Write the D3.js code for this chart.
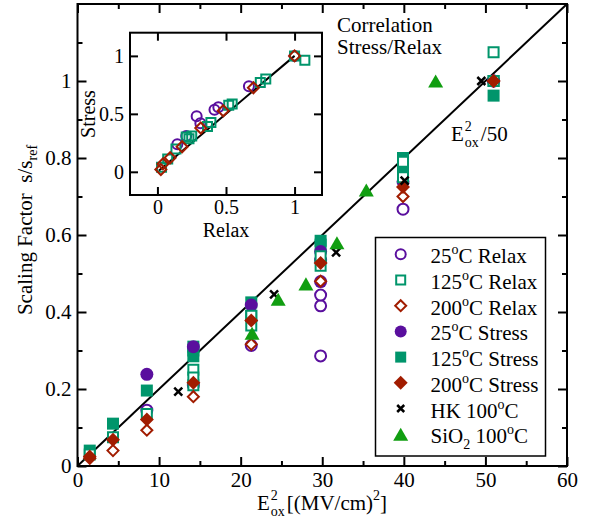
<!DOCTYPE html>
<html>
<head>
<meta charset="utf-8">
<script src="https://cdn.jsdelivr.net/npm/d3@7"></script>
<style>
  body { margin: 0; background: #fff; }
  svg { display: block; }
</style>
</head>
<body>
<svg id="chart" width="592" height="525" font-family="Liberation Serif, Times New Roman, serif"></svg>
<script>
// E_ox^2 positions and scaling factors
const t25X      = [8.5, 14.2, 21.3, 29.8, 29.8, 29.8, 39.9, 51.0];
const t25Relax  = [0.145, 0.21, 0.313, 0.286, 0.416, 0.444, 0.667, 1.0];
const t25Stress = [0.238, 0.31, 0.418, 0.479, 0.535, 0.557, 0.738, 1.0];

const t125X      = [1.5, 4.35, 8.5, 14.2, 14.2, 14.2, 21.3, 21.3, 29.8, 29.8, 39.9, 39.9, 51.0, 51.0];
const t125Relax  = [0.03, 0.075, 0.135, 0.21, 0.25, 0.23, 0.365, 0.39, 0.52, 0.545, 0.75, 0.79, 1.0, 1.075];
const t125Stress = [0.04, 0.11, 0.196, 0.30, 0.31, 0.285, 0.39, 0.425, 0.575, 0.585, 0.77, 0.80, 1.0, 0.962];

const t200X      = [1.5, 4.35, 8.5, 14.2, 21.3, 29.8, 39.9, 51.0];
const t200Relax  = [0.025, 0.04, 0.093, 0.18, 0.316, 0.48, 0.70, 1.0];
const t200Stress = [0.02, 0.068, 0.121, 0.216, 0.378, 0.527, 0.725, 1.0];

const hkX = [12.35, 24.1, 31.7, 40.1, 49.5];
const hkY = [0.193, 0.446, 0.555, 0.741, 1.0];

const sioX = [21.4, 24.6, 28.0, 31.8, 35.4, 43.9];
const sioY = [0.345, 0.433, 0.473, 0.58, 0.717, 1.0];

const xTicks = [0, 10, 20, 30, 40, 50, 60];
const yTicks = [0, 0.2, 0.4, 0.6, 0.8, 1];
const insetTicks = [0, 0.5, 1];

const PURPLE = "#5a0f9e", TEAL = "#00956b", RED = "#a11c00", GREEN = "#119e11";
const SERIF = "Liberation Serif, Times New Roman, serif";

const svg = d3.select("#chart");
const FS = 21;

// marker path generator
function marker(shape, s) {
  if (shape === "circle") return `M${s},0A${s},${s} 0 1,1 ${-s},0A${s},${s} 0 1,1 ${s},0Z`;
  if (shape === "square") return `M${-s},${-s}H${s}V${s}H${-s}Z`;
  if (shape === "diamond") return `M0,${-s}L${s},0L0,${s}L${-s},0Z`;
  if (shape === "triangle") { const h = s * 0.87; return `M0,${-h}L${s},${h}L${-s},${h}Z`; }
  if (shape === "cross") return `M${-s},${-s}L${s},${s}M${-s},${s}L${s},${-s}`;
}

// ---------- main plot ----------
const x = d3.scaleLinear().domain([0, 60]).range([77.5, 567]);
const y = d3.scaleLinear().domain([0, 1.2]).range([466, 4]);

const main = svg.append("g");

function inwardAxes(g, xs, ys, xt, yt, xMinor, yMinor, big, small, fs, pad) {
  const [x0, x1] = xs.range(), [y0, y1] = ys.range();
  g.append("g").attr("transform", `translate(0,${y0})`)
    .call(d3.axisBottom(xs).tickValues(xMinor).tickSize(-small).tickSizeOuter(0).tickFormat(""));
  g.append("g").attr("transform", `translate(0,${y1})`)
    .call(d3.axisTop(xs).tickValues(xMinor).tickSize(-small).tickSizeOuter(0).tickFormat(""));
  g.append("g").attr("transform", `translate(${x0},0)`)
    .call(d3.axisLeft(ys).tickValues(yMinor).tickSize(-small).tickSizeOuter(0).tickFormat(""));
  g.append("g").attr("transform", `translate(${x1},0)`)
    .call(d3.axisRight(ys).tickValues(yMinor).tickSize(-small).tickSizeOuter(0).tickFormat(""));
  g.append("g").attr("transform", `translate(0,${y1})`)
    .call(d3.axisTop(xs).tickValues(xt).tickSize(-big).tickSizeOuter(0).tickFormat(""));
  g.append("g").attr("transform", `translate(${x1},0)`)
    .call(d3.axisRight(ys).tickValues(yt).tickSize(-big).tickSizeOuter(0).tickFormat(""));
  g.append("g").attr("class", "lab").attr("transform", `translate(0,${y0})`)
    .call(d3.axisBottom(xs).tickValues(xt).tickSize(-big).tickSizeOuter(0).tickPadding(pad).tickFormat(d3.format("~g")));
  g.append("g").attr("class", "lab").attr("transform", `translate(${x0},0)`)
    .call(d3.axisLeft(ys).tickValues(yt).tickSize(-big).tickSizeOuter(0).tickPadding(6).tickFormat(d3.format("~g")));
  g.selectAll(".domain").remove();
  g.selectAll("g").attr("font-family", SERIF);
  g.selectAll(".tick line").attr("stroke", "#000").attr("stroke-width", 2);
  g.selectAll(".lab text").attr("font-size", fs).attr("font-family", SERIF).attr("fill", "#000");
  g.append("rect").attr("x", x0).attr("y", y1).attr("width", x1 - x0).attr("height", y0 - y1)
    .attr("fill", "none").attr("stroke", "#000").attr("stroke-width", 2);
}

inwardAxes(main, x, y, xTicks, yTicks, d3.range(5, 60, 10), [0.1, 0.3, 0.5, 0.7, 0.9, 1.1], 9, 5, FS, 6);

// E^2/50 line
main.append("line")
  .attr("x1", x(0)).attr("y1", y(0)).attr("x2", x(60)).attr("y2", y(1.2))
  .attr("stroke", "#000").attr("stroke-width", 2);

function drawSeries(g, xs, ys, xv, yv, shape, size, color, open, fillOpen) {
  g.append("g").selectAll("path")
    .data(xv.map((d, i) => [d, yv[i]]))
    .enter().append("path")
    .attr("transform", d => `translate(${xs(d[0])},${ys(d[1])})`)
    .attr("d", marker(shape, size))
    .attr("fill", open ? fillOpen : color)
    .attr("stroke", color)
    .attr("stroke-width", open ? 2 : 0);
}

drawSeries(main, x, y, t125X, t125Stress, "square", 6, TEAL, false);
drawSeries(main, x, y, t25X, t25Stress, "circle", 6.5, PURPLE, false);
drawSeries(main, x, y, t25X, t25Relax, "circle", 5.5, PURPLE, true, "#fff");
drawSeries(main, x, y, t125X, t125Relax, "square", 5, TEAL, true, "#fff");
drawSeries(main, x, y, t200X, t200Relax, "diamond", 5.5, RED, true, "#fff");
drawSeries(main, x, y, t200X, t200Stress, "diamond", 7, RED, false);
main.append("g").selectAll("path")
  .data(hkX.map((d, i) => [d, hkY[i]]))
  .enter().append("path")
  .attr("transform", d => `translate(${x(d[0])},${y(d[1])})`)
  .attr("d", marker("cross", 4)).attr("stroke", "#000").attr("stroke-width", 2.5).attr("fill", "none");
drawSeries(main, x, y, sioX, sioY, "triangle", 7.5, GREEN, false);

// stacked super/subscript text helper: base, sup, sub, then the rest
function stackedLabel(g, cx, baseY, base, sup, sub, restFn, anchorCenter) {
  const grp = g.append("g");
  const t1 = grp.append("text").attr("x", 0).attr("y", baseY).attr("font-size", FS).text(base);
  const w1 = t1.node().getComputedTextLength() + 1;
  const ts = grp.append("text").attr("x", w1).attr("y", baseY - 10).attr("font-size", 14).text(sup);
  const tb = grp.append("text").attr("x", w1).attr("y", baseY + 6).attr("font-size", 14).text(sub);
  const w2 = Math.max(ts.node().getComputedTextLength(), tb.node().getComputedTextLength());
  const t3 = grp.append("text").attr("x", w1 + w2 + 2).attr("y", baseY).attr("font-size", FS);
  restFn(t3);
  const total = w1 + w2 + 2 + t3.node().getComputedTextLength();
  grp.attr("transform", `translate(${anchorCenter ? cx - total / 2 : cx},0)`);
}

// x axis title
stackedLabel(svg, 322, 510, "E", "2", "ox", t => {
  t.append("tspan").text(" [(MV/cm)");
  t.append("tspan").attr("font-size", 14).attr("dy", -10).text("2");
  t.append("tspan").attr("dy", 10).text("]");
}, true);

// y axis title
const yl = svg.append("text")
  .attr("transform", "translate(32,230) rotate(-90)")
  .attr("text-anchor", "middle").attr("font-size", FS);
yl.append("tspan").text("Scaling Factor\u00a0\u00a0s/s");
yl.append("tspan").attr("font-size", 14).attr("dy", 5).text("ref");

// line annotation
stackedLabel(svg, 451, 141, "E", "2", "ox", t => t.text("/50"), false);

// correlation title
svg.append("text").attr("x", 337).attr("y", 32).attr("font-size", FS).text("Correlation");
svg.append("text").attr("x", 337).attr("y", 54).attr("font-size", FS).text("Stress/Relax");

// ---------- legend ----------
const legendItems = [
  { shape: "circle", s: 5, c: PURPLE, open: true, parts: [["25"], ["o", 1], ["C Relax"]] },
  { shape: "square", s: 4.5, c: TEAL, open: true, parts: [["125"], ["o", 1], ["C Relax"]] },
  { shape: "diamond", s: 5.5, c: RED, open: true, parts: [["200"], ["o", 1], ["C Relax"]] },
  { shape: "circle", s: 6, c: PURPLE, open: false, parts: [["25"], ["o", 1], ["C Stress"]] },
  { shape: "square", s: 5.5, c: TEAL, open: false, parts: [["125"], ["o", 1], ["C Stress"]] },
  { shape: "diamond", s: 7, c: RED, open: false, parts: [["200"], ["o", 1], ["C Stress"]] },
  { shape: "cross", s: 3.5, c: "#000", open: false, parts: [["HK 100"], ["o", 1], ["C"]] },
  { shape: "triangle", s: 7.5, c: GREEN, open: false, parts: [["SiO"], ["2", -1], [" 100"], ["o", 1], ["C"]] }
];

const leg = svg.append("g");
leg.append("rect").attr("x", 375.5).attr("y", 237.5).attr("width", 170).attr("height", 218.5)
  .attr("fill", "#fff").attr("stroke", "#000").attr("stroke-width", 1.5);
legendItems.forEach((d, i) => {
  const cy = 254.3 + i * 25.7;
  const p = leg.append("path").attr("transform", `translate(400.7,${cy})`).attr("d", marker(d.shape, d.s));
  if (d.shape === "cross") p.attr("stroke", "#000").attr("stroke-width", 2.5).attr("fill", "none");
  else p.attr("fill", d.open ? "#fff" : d.c).attr("stroke", d.c).attr("stroke-width", d.open ? 2 : 0);
  const t = leg.append("text").attr("x", 430.5).attr("y", cy + 9).attr("font-size", FS);
  let shift = 0;
  d.parts.forEach(pt => {
    const off = pt[1] === 1 ? -9 : pt[1] === -1 ? 6 : 0;
    const ts = t.append("tspan").attr("dy", off - shift).text(pt[0]);
    if (pt[1]) ts.attr("font-size", 14);
    shift = off;
  });
});

// ---------- inset ----------
const ix = d3.scaleLinear().domain([-0.2, 1.2]).range([130, 322]);
const iy = d3.scaleLinear().domain([-0.2, 1.2]).range([195, 32.7]);
const inset = svg.append("g");
inset.append("rect").attr("x", 130).attr("y", 32.7).attr("width", 192).attr("height", 162.3).attr("fill", "#fff");
inwardAxes(inset, ix, iy, insetTicks, insetTicks, [], [], 8, 4, 20, 5);

inset.append("line")
  .attr("x1", ix(0.01)).attr("y1", iy(0.01)).attr("x2", ix(1)).attr("y2", iy(1))
  .attr("stroke", "#000").attr("stroke-width", 2);
drawSeries(inset, ix, iy, t25Relax, t25Stress, "circle", 5, PURPLE, true, "none");
drawSeries(inset, ix, iy, t125Relax, t125Stress, "square", 4.5, TEAL, true, "none");
drawSeries(inset, ix, iy, t200Relax, t200Stress, "diamond", 5.5, RED, true, "none");

inset.append("text").attr("x", 226).attr("y", 237).attr("text-anchor", "middle").attr("font-size", 20).text("Relax");
inset.append("text").attr("transform", "translate(95,114) rotate(-90)")
  .attr("text-anchor", "middle").attr("font-size", 20).text("Stress");
</script>
</body>
</html>
